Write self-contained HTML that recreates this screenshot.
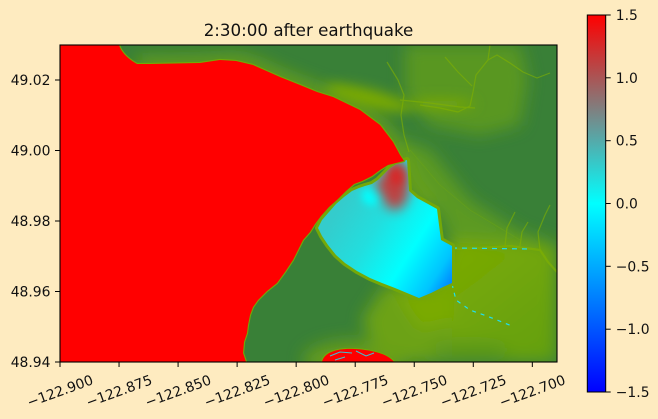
<!DOCTYPE html>
<html>
<head>
<meta charset="utf-8">
<style>
html,body{margin:0;padding:0;background:#feebc0;}
svg{display:block;}
text{font-family:"DejaVu Sans","Liberation Sans",sans-serif;fill:#111;}
</style>
</head>
<body>
<svg width="658" height="419" viewBox="0 0 658 419" xmlns="http://www.w3.org/2000/svg">
<defs>
  <clipPath id="plot"><rect x="60" y="45" width="497" height="317"/></clipPath>
  <filter id="blur" x="-30%" y="-30%" width="160%" height="160%"><feGaussianBlur stdDeviation="8"/></filter>
  <filter id="blur2" x="-50%" y="-50%" width="200%" height="200%"><feGaussianBlur stdDeviation="6"/></filter>
  <filter id="blur3" x="-50%" y="-50%" width="200%" height="200%"><feGaussianBlur stdDeviation="4"/></filter>
  <linearGradient id="cbar" x1="0" y1="0" x2="0" y2="1">
    <stop offset="0" stop-color="#ff0000"/>
    <stop offset="0.5" stop-color="#00ffff"/>
    <stop offset="1" stop-color="#0000ff"/>
  </linearGradient>
  <linearGradient id="bay" gradientUnits="userSpaceOnUse" x1="335" y1="215" x2="452" y2="290">
    <stop offset="0" stop-color="#34cccc"/>
    <stop offset="0.3" stop-color="#22dede"/>
    <stop offset="0.6" stop-color="#00ffff"/>
    <stop offset="0.85" stop-color="#00c4ff"/>
    <stop offset="1" stop-color="#0078ff"/>
  </linearGradient>
  <linearGradient id="lr" gradientUnits="userSpaceOnUse" x1="452" y1="250" x2="540" y2="362">
    <stop offset="0" stop-color="#7aaa02"/>
    <stop offset="1" stop-color="#64a012"/>
  </linearGradient>
  <clipPath id="bayclip">
    <path d="M365,186 L372,184 L378,180 L384,174 L390,168 L398,163 L407,160 L408,175 L409,191 L417,198 L428,204 L437,209 L439,225 L441,240 L452,246 L452,283 L443,287 L431,293 L419,298 L407,293 L395,288 L382,283 L370,278 L357,271 L345,263 L336,255 L328,245 L322,236 L318,228 L322,220 L329,212 L336,204 L344,197 L352,191 L359,188 Z"/>
  </clipPath>
</defs>

<!-- Title -->
<text x="308.5" y="36" font-size="16.7" text-anchor="middle">2:30:00 after earthquake</text>

<g clip-path="url(#plot)">
  <!-- base dark green -->
  <rect x="60" y="45" width="497" height="317" fill="#398037"/>

  <!-- blurred terrain -->
  <g filter="url(#blur)">
    <polygon points="405,45 520,45 528,80 520,125 480,135 430,125 405,95" fill="#5c9a20" opacity="0.9"/>
    <polygon points="400,140 430,150 470,200 520,232 557,245 452,245 440,215 412,195" fill="#5c9a20"/>
    <polygon points="452,240 557,245 557,362 440,362 425,300" fill="url(#lr)"/>
    <polygon points="385,285 452,288 452,362 380,362 362,320" fill="#6ca214"/>
    <polygon points="395,292 450,288 455,320 420,330" fill="#7aaa04"/>
    <ellipse cx="355" cy="360" rx="52" ry="20" fill="#6aa014" opacity="0.85"/>
    <ellipse cx="470" cy="352" rx="40" ry="10" fill="#4f8f2a" opacity="0.6"/>
    <path d="M137,64 L200,63 L236,61 L253,65 L280,77 L300,85 L333,97 L360,110 L380,125 L393,142 L404,161 L412,185 L430,205" fill="none" stroke="#6ea412" stroke-width="12"/>
  </g>
  <g filter="url(#blur2)">
    <ellipse cx="368" cy="98" rx="44" ry="9" fill="#7aaa04" transform="rotate(14 368 98)"/>
    <ellipse cx="440" cy="104" rx="35" ry="5" fill="#78a808"/>
  </g>

  <!-- rivers -->
  <g fill="none" stroke="#82b200" stroke-width="1.2" stroke-linejoin="round" opacity="0.6">
    <path d="M420,105 L440,108 L458,112 L470,106 L473,92 L476,75 L488,60 L497,55 L510,63 L523,72 L537,78 L550,73"/>
    <path d="M387,62 L398,80 L404,95 L401,115 L404,135 L409,152"/>
    <path d="M400,100 L430,103 L460,107 L475,108"/>
    <path d="M445,57 L458,72 L472,86"/>
    <path d="M490,45 L488,60"/>
    <path d="M452,249 L480,248 L510,246 L540,250 L548,262 L557,272" stroke-width="2.2"/>
    <path d="M505,246 L507,228 L515,212"/>
    <path d="M540,250 L538,232 L545,215 L550,205"/>
    <path d="M520,246 L522,232 L528,222"/>
  </g>
  <path d="M410,150 L440,185 L470,210 L520,240" fill="none" stroke="#6aa418" stroke-width="1" opacity="0.5"/>

  <!-- cyan edge marks -->
  <g fill="none" stroke="#20e0f0" stroke-width="1.2">
    <path d="M452,248 L532,249" stroke-dasharray="5 5"/>
    <path d="M452,284 L456,300 L470,310 L492,318 L512,326" stroke-dasharray="4 5"/>
  </g>

  <!-- bay border (light green) -->
  <path d="M365,186 L372,184 L378,180 L384,174 L390,168 L398,163 L407,160 L408,175 L409,191 L417,198 L428,204 L437,209 L439,225 L441,240 L452,246 L452,283 L443,287 L431,293 L419,298 L407,293 L395,288 L382,283 L370,278 L357,271 L345,263 L336,255 L328,245 L322,236 L318,228 L322,220 L329,212 L336,204 L344,197 L352,191 L359,188 Z" fill="#78aa04" stroke="#74a808" stroke-width="6" stroke-linejoin="round"/>
  <!-- bay water -->
  <g clip-path="url(#bayclip)">
    <rect x="310" y="155" width="150" height="150" fill="url(#bay)"/>
    <ellipse cx="372" cy="196" rx="10" ry="9" fill="#00ffff" filter="url(#blur3)"/>
    <g filter="url(#blur2)">
      <ellipse cx="395" cy="186" rx="14" ry="24" fill="#ff0000" opacity="0.7"/>
      <ellipse cx="380" cy="186" rx="6" ry="6" fill="#ff0000" opacity="0.5"/>
    </g>
    <ellipse cx="398" cy="174" rx="9" ry="11" fill="#ff0000" opacity="0.4" filter="url(#blur3)"/>
  </g>

  <!-- main red region -->
  <path d="M60,45 L119,45 C121,52 128,59 137,64 L150,64 L200,63 L220,60 L236,61 L253,65 L280,77 L300,85 L317,92 L333,97 L360,110 L380,125 L393,142 L400,155 L404,161 L396,163 L388,165 L380,170 L372,176 L362,181 L354,184 L346,191 L338,199 L329,207 L321,216 L315,224 L310,232 L303,240 L298,250 L293,260 L285,272 L277,283 L267,291 L258,300 L253,307 L250,315 L248,325 L247,333 L244,342 L243,353 L246,362 L60,362 Z" fill="#ff0000" stroke="#72aa06" stroke-width="2.2" paint-order="stroke" stroke-linejoin="round"/>

  <!-- bottom red blob -->
  <path d="M322,362 C324,352 338,348 355,349 C372,350 388,354 394,362 Z" fill="#ff0000" stroke="#72aa06" stroke-width="2" paint-order="stroke"/>
  <g fill="none" stroke="#40c0d0" stroke-width="1">
    <path d="M330,356 L340,352 L352,353"/>
    <path d="M356,351 L366,356 L374,353"/>
    <path d="M335,360 L345,357"/>
  </g>
</g>

<!-- axes frame -->
<rect x="60" y="45" width="497" height="317" fill="none" stroke="#000" stroke-width="1.1"/>

<!-- y ticks -->
<g stroke="#000" stroke-width="1">
  <line x1="55" y1="80" x2="60" y2="80"/>
  <line x1="55" y1="150.5" x2="60" y2="150.5"/>
  <line x1="55" y1="221" x2="60" y2="221"/>
  <line x1="55" y1="291.5" x2="60" y2="291.5"/>
  <line x1="55" y1="362" x2="60" y2="362"/>
</g>
<g font-size="13.9" text-anchor="end">
  <text x="50.5" y="80" dy="0.36em">49.02</text>
  <text x="50.5" y="150.5" dy="0.36em">49.00</text>
  <text x="50.5" y="221" dy="0.36em">48.98</text>
  <text x="50.5" y="291.5" dy="0.36em">48.96</text>
  <text x="50.5" y="362" dy="0.36em">48.94</text>
</g>

<!-- x ticks -->
<g stroke="#000" stroke-width="1">
  <line x1="60" y1="362" x2="60" y2="367"/>
  <line x1="119.04" y1="362" x2="119.04" y2="367"/>
  <line x1="178.08" y1="362" x2="178.08" y2="367"/>
  <line x1="237.12" y1="362" x2="237.12" y2="367"/>
  <line x1="296.16" y1="362" x2="296.16" y2="367"/>
  <line x1="355.2" y1="362" x2="355.2" y2="367"/>
  <line x1="414.24" y1="362" x2="414.24" y2="367"/>
  <line x1="473.28" y1="362" x2="473.28" y2="367"/>
  <line x1="532.32" y1="362" x2="532.32" y2="367"/>
</g>
<g font-size="13.9" text-anchor="middle">
  <text transform="translate(60,391) rotate(-20)" dy="0.35em">−122.900</text>
  <text transform="translate(119.04,391) rotate(-20)" dy="0.35em">−122.875</text>
  <text transform="translate(178.08,391) rotate(-20)" dy="0.35em">−122.850</text>
  <text transform="translate(237.12,391) rotate(-20)" dy="0.35em">−122.825</text>
  <text transform="translate(296.16,391) rotate(-20)" dy="0.35em">−122.800</text>
  <text transform="translate(355.2,391) rotate(-20)" dy="0.35em">−122.775</text>
  <text transform="translate(414.24,391) rotate(-20)" dy="0.35em">−122.750</text>
  <text transform="translate(473.28,391) rotate(-20)" dy="0.35em">−122.725</text>
  <text transform="translate(532.32,391) rotate(-20)" dy="0.35em">−122.700</text>
</g>

<!-- colorbar -->
<rect x="587.3" y="15" width="18.4" height="377" fill="url(#cbar)" stroke="#000" stroke-width="1"/>
<g stroke="#000" stroke-width="1">
  <line x1="605.7" y1="15" x2="610.7" y2="15"/>
  <line x1="605.7" y1="77.8" x2="610.7" y2="77.8"/>
  <line x1="605.7" y1="140.7" x2="610.7" y2="140.7"/>
  <line x1="605.7" y1="203.5" x2="610.7" y2="203.5"/>
  <line x1="605.7" y1="266.3" x2="610.7" y2="266.3"/>
  <line x1="605.7" y1="329.2" x2="610.7" y2="329.2"/>
  <line x1="605.7" y1="392" x2="610.7" y2="392"/>
</g>
<g font-size="13.9" text-anchor="start">
  <text x="615.8" y="15" dy="0.36em">1.5</text>
  <text x="615.8" y="77.8" dy="0.36em">1.0</text>
  <text x="615.8" y="140.7" dy="0.36em">0.5</text>
  <text x="615.8" y="203.5" dy="0.36em">0.0</text>
  <text x="615.8" y="266.3" dy="0.36em">−0.5</text>
  <text x="615.8" y="329.2" dy="0.36em">−1.0</text>
  <text x="615.8" y="392" dy="0.36em">−1.5</text>
</g>
</svg>
</body>
</html>
